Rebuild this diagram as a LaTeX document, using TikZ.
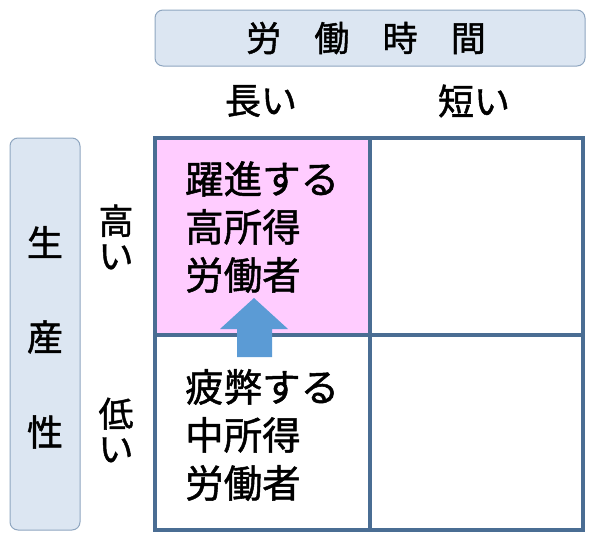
\documentclass[tikz,border=0pt]{standalone}
\usepackage{fontspec}
\newfontfamily\jp[FakeBold=1.3]{Noto Sans CJK JP}
\definecolor{hdrfill}{HTML}{DCE6F2}
\definecolor{hdrline}{HTML}{8FA6C0}
\definecolor{gridline}{HTML}{4A6D93}
\definecolor{pinkfill}{HTML}{FFCCFF}
\definecolor{arrowfill}{HTML}{5B9BD5}
\tikzset{
  hdrbox/.style={draw=hdrline, fill=hdrfill, rounded corners=8pt, line width=1pt},
  cell/.style={draw=gridline, line width=4pt},
  lbl/.style={font=\jp\fontsize{35}{40}\selectfont, inner sep=0pt},
  celltext/.style={font=\jp\fontsize{38.5}{48}\selectfont, align=left, inner sep=0pt, anchor=north west},
}
\begin{document}
\begin{tikzpicture}[x=1pt,y=-1pt]
\useasboundingbox (0,0) rectangle (600,546);
% header boxes
\draw[hdrbox] (155,10) rectangle (585,66);
\draw[hdrbox] (10,138) rectangle (80,530);
\node[lbl] (hdr) at (366,38) {労\hspace{0.95em}働\hspace{0.95em}時\hspace{0.95em}間};
\node[lbl, font=\jp\fontsize{36}{40}\selectfont] (long) at (261,101) {長い};
\node[lbl, font=\jp\fontsize{36}{40}\selectfont] (short) at (474,101) {短い};
\node[lbl, font=\jp\fontsize{36}{40}\selectfont] (s1) at (45,242) {生};
\node[lbl, font=\jp\fontsize{36}{40}\selectfont] (s2) at (45,337) {産};
\node[lbl, font=\jp\fontsize{36}{40}\selectfont] (s3) at (45,432) {性};
\node[lbl, align=center, font=\jp\fontsize{35}{35}\selectfont] (high) at (116,237) {高\\い};
\node[lbl, align=center, font=\jp\fontsize{35}{35}\selectfont] (low) at (116,430) {低\\い};
% cells
\fill[pinkfill] (155,138) rectangle (370,335);
\draw[cell] (155,138) rectangle (370,335);
\draw[cell] (370,138) rectangle (583,335);
\draw[cell] (155,335) rectangle (370,530);
\draw[cell] (370,335) rectangle (583,530);
% arrow
\fill[arrowfill] (237,357) -- (237,329) -- (220,329) -- (254,298) -- (288,329) -- (272,329) -- (272,357) -- cycle;
% cell texts
\node[celltext] (upper) at (185,161) {躍進する\\高所得\\労働者};
\node[celltext] (lower) at (185,369) {疲弊する\\中所得\\労働者};
\end{tikzpicture}
\end{document}
